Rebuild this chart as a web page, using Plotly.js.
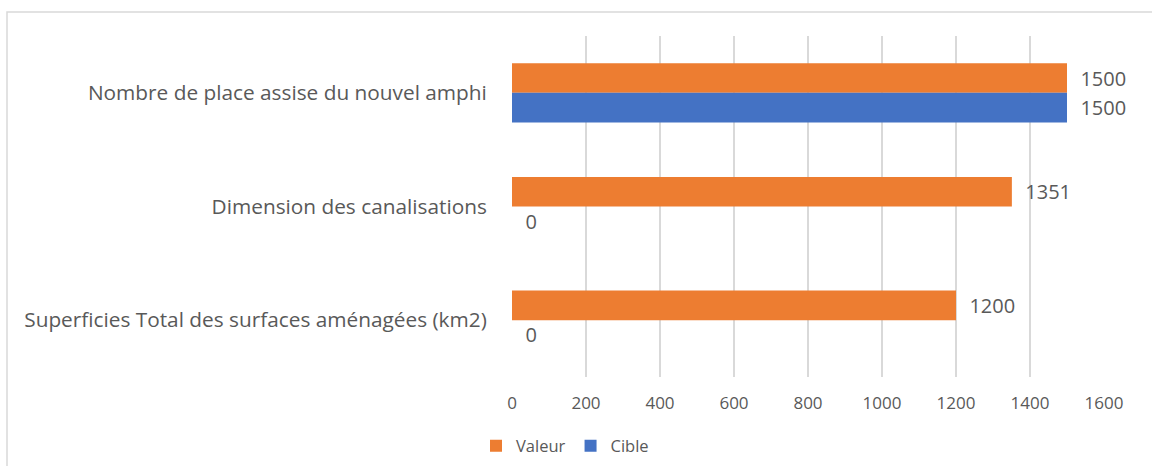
<!DOCTYPE html>
<html>
<head>
<meta charset="utf-8">
<script src="https://cdn.plot.ly/plotly-3.0.1.min.js"></script>
<style>html,body{margin:0;padding:0;background:#fff;}#chart{width:1152px;height:466px;}</style>
</head>
<body>
<div id="chart"></div>
<script>
const categories = [
  "Nombre de place assise du nouvel amphi",
  "Dimension des canalisations",
  "Superficies Total des surfaces aménagées (km2)"
];
const valeur = [1500, 1351, 1200];
const cible = [1500, 0, 0];
const xTicks = [0, 200, 400, 600, 800, 1000, 1200, 1400, 1600];

const W = 1152, H = 466;
const m = {l: 512, r: 48, t: 36, b: 89};
const pw = W - m.l - m.r, ph = H - m.t - m.b;
const px = p => (p - m.l) / pw;
const py = p => (H - m.b - p) / ph;

const fam = "Open Sans, sans-serif";
const grey = "#595959";
const font = {family: fam, size: 16.5, color: grey};
const catFont = {family: fam, size: 20.8, color: grey};
const tickFont = {family: fam, size: 17, color: grey};
const labelFont = {family: fam, size: 20, color: grey};
const pad = "\u00a0\u00a0";

const traces = [
  {type: "bar", orientation: "h", name: "Valeur", y: categories, x: valeur,
   marker: {color: "#ED7D31"}, text: valeur.map(v => pad + v), textposition: "outside",
   texttemplate: "%{text}", textfont: labelFont, cliponaxis: false, hoverinfo: "x+name"},
  {type: "bar", orientation: "h", name: "Cible", y: categories, x: cible,
   marker: {color: "#4472C4"}, text: cible.map(v => pad + v), textposition: "outside",
   texttemplate: "%{text}", textfont: labelFont, cliponaxis: false, hoverinfo: "x+name"}
];

const layout = {
  width: W, height: H,
  margin: m,
  paper_bgcolor: "#fff", plot_bgcolor: "#fff",
  barmode: "group", bargap: 0.48, bargroupgap: 0,
  font: font,
  showlegend: true,
  legend: {orientation: "h", xref: "container", x: 476 / W, xanchor: "left",
           yref: "container", y: (H - 446) / H, yanchor: "middle",
           font: font, itemwidth: 30, traceorder: "normal"},
  xaxis: {range: [0, 1600], tickvals: xTicks, ticktext: xTicks.map(String),
          showgrid: true, gridcolor: "#d9d9d9", gridwidth: 1.5, zeroline: false,
          showline: false, ticks: "outside", ticklen: 11, tickcolor: "rgba(0,0,0,0)",
          tickfont: tickFont, fixedrange: true, automargin: false},
  yaxis: {type: "category", autorange: "reversed", showgrid: false, zeroline: false,
          showline: false, ticks: "outside", ticklen: 20, tickcolor: "rgba(0,0,0,0)",
          tickfont: catFont, fixedrange: true, automargin: false},
  shapes: [{type: "rect", xref: "paper", yref: "paper",
            x0: px(7), x1: px(1170), y0: py(12), y1: py(490),
            line: {color: "#d9d9d9", width: 1.5}, fillcolor: "rgba(0,0,0,0)", layer: "below"}]
};

Plotly.newPlot("chart", traces, layout, {displayModeBar: false, staticPlot: true});
</script>
</body>
</html>
